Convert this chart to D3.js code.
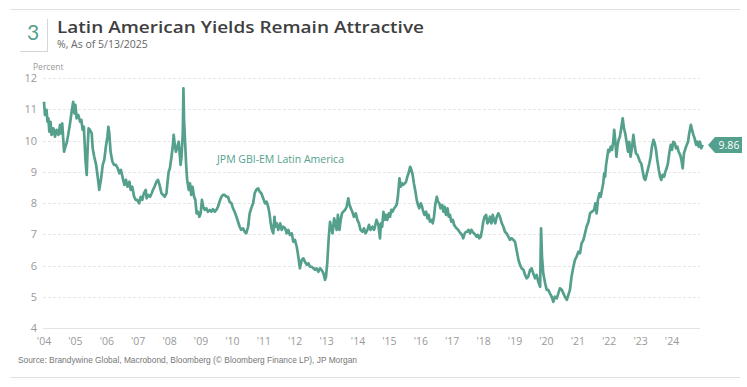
<!DOCTYPE html>
<html>
<head>
<meta charset="utf-8">
<script src="https://cdn.jsdelivr.net/npm/d3@7"></script>
<style>
  body { margin: 0; background: #fff; }
  svg { display: block; }
</style>
</head>
<body>
<svg id="chart"></svg>
<script>
// JPM GBI-EM Latin America yield (decimal years, %)
var dates = [
  2004.00, 2004.03, 2004.08, 2004.11, 2004.14, 2004.17, 2004.21, 2004.24, 2004.30, 2004.35,
  2004.40, 2004.46, 2004.51, 2004.54, 2004.58, 2004.64, 2004.68, 2004.72, 2004.77, 2004.83,
  2004.88, 2004.93, 2004.97, 2005.00, 2005.04, 2005.09, 2005.15, 2005.19, 2005.23, 2005.27,
  2005.32, 2005.36, 2005.39, 2005.42, 2005.46, 2005.52, 2005.55, 2005.60, 2005.66, 2005.71,
  2005.76, 2005.82, 2005.87, 2005.92, 2005.97, 2006.02, 2006.05, 2006.08, 2006.12, 2006.18,
  2006.23, 2006.29, 2006.35, 2006.40, 2006.45, 2006.51, 2006.56, 2006.61, 2006.66, 2006.72,
  2006.76, 2006.81, 2006.87, 2006.92, 2006.97, 2007.03, 2007.08, 2007.13, 2007.18, 2007.24,
  2007.27, 2007.32, 2007.38, 2007.43,
  2007.47, 2007.52, 2007.58, 2007.63, 2007.68, 2007.74, 2007.79, 2007.84, 2007.90, 2007.93,
  2007.97, 2008.01, 2008.06, 2008.10, 2008.13, 2008.16, 2008.20, 2008.25, 2008.29, 2008.32,
  2008.35, 2008.38, 2008.42, 2008.44, 2008.46, 2008.48, 2008.50, 2008.53, 2008.56, 2008.61,
  2008.65, 2008.69, 2008.73, 2008.78, 2008.82, 2008.86, 2008.90, 2008.95, 2008.99, 2009.03,
  2009.07, 2009.12, 2009.17, 2009.22, 2009.28, 2009.33, 2009.38, 2009.44, 2009.49, 2009.54,
  2009.59, 2009.65, 2009.70, 2009.75, 2009.81, 2009.86, 2009.91, 2009.97, 2010.02, 2010.07,
  2010.13, 2010.18, 2010.23, 2010.28, 2010.34, 2010.39, 2010.44, 2010.50, 2010.55, 2010.60,
  2010.66, 2010.71, 2010.76, 2010.82, 2010.87, 2010.92,
  2010.98, 2011.04, 2011.09, 2011.14, 2011.18, 2011.22, 2011.26, 2011.30, 2011.34, 2011.37,
  2011.41, 2011.46, 2011.52, 2011.57, 2011.62, 2011.68, 2011.73, 2011.78, 2011.83, 2011.89,
  2011.94, 2011.99, 2012.05, 2012.10, 2012.15, 2012.21, 2012.26, 2012.31, 2012.37, 2012.42,
  2012.47, 2012.52, 2012.58, 2012.63, 2012.68, 2012.74, 2012.79, 2012.84, 2012.90, 2012.95,
  2012.98, 2013.02, 2013.07, 2013.11, 2013.15, 2013.19, 2013.24, 2013.28, 2013.32, 2013.36,
  2013.41, 2013.45, 2013.49, 2013.53, 2013.59, 2013.64, 2013.69, 2013.72, 2013.77, 2013.82,
  2013.87, 2013.93, 2013.98, 2014.03, 2014.08, 2014.14, 2014.19, 2014.24, 2014.30, 2014.35,
  2014.40, 2014.46, 2014.51,
  2014.54, 2014.59, 2014.65, 2014.70, 2014.73, 2014.77, 2014.81, 2014.85, 2014.89, 2014.93,
  2014.98, 2015.02, 2015.06, 2015.10, 2015.15, 2015.19, 2015.23, 2015.27, 2015.32, 2015.36,
  2015.40, 2015.44, 2015.49, 2015.53, 2015.57, 2015.61, 2015.66, 2015.70, 2015.74, 2015.78,
  2015.83, 2015.87, 2015.91, 2015.95, 2016.00, 2016.04, 2016.08, 2016.12, 2016.17, 2016.21,
  2016.25, 2016.29, 2016.34, 2016.38, 2016.42, 2016.46, 2016.51, 2016.55, 2016.59, 2016.63,
  2016.68, 2016.72, 2016.76, 2016.80, 2016.85, 2016.89, 2016.93, 2016.97, 2017.02, 2017.06,
  2017.10, 2017.14, 2017.19, 2017.23, 2017.27, 2017.31, 2017.35, 2017.40, 2017.44, 2017.48,
  2017.52, 2017.57, 2017.61, 2017.65, 2017.69, 2017.74, 2017.78, 2017.82, 2017.86, 2017.91,
  2017.95, 2017.99, 2018.03,
  2018.08, 2018.12, 2018.16, 2018.20, 2018.25, 2018.29, 2018.33, 2018.37, 2018.42, 2018.47,
  2018.52, 2018.58, 2018.63, 2018.68, 2018.73, 2018.79, 2018.84, 2018.89, 2018.95, 2019.00,
  2019.05, 2019.11, 2019.16, 2019.21, 2019.27, 2019.32, 2019.37, 2019.42, 2019.48, 2019.53,
  2019.58, 2019.64, 2019.69, 2019.74, 2019.80, 2019.83, 2019.86, 2019.90, 2019.96, 2020.01,
  2020.06, 2020.11, 2020.17, 2020.22, 2020.27, 2020.33, 2020.38, 2020.43, 2020.49, 2020.54,
  2020.59, 2020.65, 2020.70, 2020.75, 2020.80, 2020.86, 2020.91, 2020.96, 2021.02, 2021.07,
  2021.12, 2021.18, 2021.23, 2021.28, 2021.34, 2021.39,
  2021.52, 2021.56, 2021.60, 2021.64, 2021.69, 2021.73, 2021.77, 2021.81, 2021.84, 2021.87,
  2021.90, 2021.94, 2021.97, 2022.00, 2022.05, 2022.09, 2022.13, 2022.16, 2022.20, 2022.23,
  2022.26, 2022.30, 2022.34, 2022.39, 2022.43, 2022.47, 2022.51, 2022.56, 2022.60, 2022.64,
  2022.68, 2022.73, 2022.77, 2022.81, 2022.85, 2022.90, 2022.94, 2022.98, 2023.02, 2023.07,
  2023.11, 2023.15, 2023.19, 2023.24, 2023.28, 2023.32, 2023.36, 2023.41, 2023.45, 2023.49,
  2023.53, 2023.58, 2023.62, 2023.66, 2023.70, 2023.75, 2023.79, 2023.83, 2023.87, 2023.92,
  2023.96, 2024.00, 2024.04, 2024.09, 2024.13, 2024.17, 2024.21, 2024.26, 2024.30, 2024.34,
  2024.38, 2024.43, 2024.47, 2024.51, 2024.55, 2024.60, 2024.64, 2024.68, 2024.72, 2024.77,
  2024.81, 2024.85, 2024.89, 2024.93, 2024.98
];

var yields = [
  11.24, 10.82, 10.98, 10.60, 10.71, 10.28, 10.60, 10.18, 10.39, 10.12,
  10.34, 10.18, 10.50, 10.23, 10.55, 9.64, 9.80, 9.91, 10.18, 10.55,
  10.92, 11.24, 10.87, 11.14, 10.71, 10.82, 10.60, 10.66, 10.34, 10.44,
  9.38, 8.90, 9.75, 10.39, 10.34, 10.23, 9.75, 9.48, 9.22, 8.84,
  8.42, 8.79, 9.22, 9.38, 9.80, 10.12, 10.44, 10.23, 9.64, 9.32,
  9.22, 9.22, 9.11, 8.95, 9.06, 8.79, 8.58, 8.74, 8.52, 8.68,
  8.42, 8.52, 8.20, 8.10, 8.10, 7.99, 8.20, 8.10, 8.31, 8.42,
  8.15, 8.26, 8.20, 8.31,
  8.42, 8.52, 8.68, 8.74, 8.58, 8.31, 8.26, 8.20, 8.31, 8.63,
  9.00, 9.11, 9.48, 9.80, 10.18, 9.91, 9.64, 9.80, 9.96, 9.59,
  9.22, 9.48, 10.23, 11.67, 10.66, 10.23, 9.80, 9.16, 8.74, 8.42,
  8.63, 8.26, 8.52, 8.20, 8.10, 7.67, 7.72, 7.56, 7.67, 8.10,
  7.88, 7.78, 7.83, 7.72, 7.78, 7.72, 7.80, 7.72, 7.78, 7.88,
  8.04, 8.20, 8.26, 8.26, 8.20, 8.20, 8.04, 7.99, 7.83, 7.72,
  7.56, 7.40, 7.24, 7.14, 7.19, 7.08, 7.03, 7.24, 7.67, 7.83,
  7.99, 8.31, 8.42, 8.47, 8.36, 8.31,
  8.15, 7.99, 8.04, 7.88, 7.67, 7.35, 7.14, 7.03, 7.56, 7.24,
  7.35, 7.14, 7.35, 7.14, 7.24, 7.19, 7.03, 7.14, 6.98, 7.03,
  6.76, 6.82, 6.60, 6.28, 5.91, 6.18, 6.23, 6.12, 6.02, 6.07,
  5.96, 5.96, 5.91, 5.86, 5.91, 5.80, 5.91, 5.86, 5.75, 5.54,
  5.64, 6.07, 6.92, 7.40, 7.19, 7.03, 7.51, 7.35, 7.14, 7.62,
  7.14, 7.46, 7.67, 7.72, 7.78, 7.88, 8.15, 7.99, 7.83, 7.72,
  7.56, 7.67, 7.46, 7.35, 7.14, 7.08, 7.19, 7.03, 7.14, 7.30,
  7.14, 7.24, 7.14,
  7.24, 7.46, 7.30, 6.87, 7.35, 7.24, 7.72, 7.46, 7.62, 7.46,
  7.67, 7.56, 7.78, 7.72, 7.83, 7.88, 7.94, 8.20, 8.79, 8.52,
  8.63, 8.58, 8.63, 8.68, 8.84, 8.95, 9.16, 9.06, 8.90, 8.63,
  8.36, 8.10, 7.94, 7.83, 7.99, 7.88, 7.72, 7.62, 7.72, 7.51,
  7.62, 7.40, 7.46, 7.35, 7.56, 7.94, 8.20, 8.04, 7.99, 7.83,
  7.94, 7.72, 7.88, 7.62, 7.83, 7.56, 7.62, 7.40, 7.46, 7.30,
  7.24, 7.19, 7.14, 7.08, 7.03, 6.98, 6.87, 7.03, 7.08, 7.08,
  7.14, 7.03, 7.14, 7.08, 7.03, 6.98, 6.92, 6.98, 6.87, 6.92,
  7.14, 7.40, 7.56,
  7.62, 7.35, 7.40, 7.56, 7.35, 7.62, 7.46, 7.35, 7.56, 7.67,
  7.56, 7.35, 7.24, 7.08, 7.03, 6.92, 6.82, 6.87, 6.82, 6.76,
  6.50, 6.18, 6.02, 5.91, 5.86, 5.70, 5.59, 5.64, 5.86, 5.91,
  5.75, 5.59, 5.70, 5.48, 5.32, 7.19, 6.28, 5.75, 5.43, 5.22,
  5.22, 5.11, 5.00, 4.84, 5.00, 4.95, 5.11, 5.27, 5.22, 5.11,
  5.00, 4.90, 5.06, 5.22, 5.64, 5.96, 6.18, 6.28, 6.44, 6.39,
  6.71, 6.82, 7.03, 7.24, 7.40, 7.67,
  7.78, 7.99, 7.67, 8.10, 8.31, 8.20, 8.42, 8.63, 8.95, 8.84,
  9.22, 9.48, 9.70, 9.64, 9.80, 9.70, 9.96, 10.34, 9.91, 9.48,
  9.80, 10.02, 10.12, 10.44, 10.71, 10.39, 10.23, 9.91, 9.64, 9.96,
  9.48, 9.80, 10.18, 9.86, 9.59, 9.54, 9.43, 9.32, 9.27, 9.00,
  8.79, 8.74, 8.90, 9.11, 9.27, 9.48, 9.80, 10.02, 9.91, 9.70,
  9.38, 9.06, 8.84, 8.74, 8.90, 8.84, 9.00, 9.11, 9.27, 9.64,
  9.86, 9.70, 9.96, 9.91, 9.75, 9.80, 9.64, 9.54, 9.38, 9.11,
  9.59, 9.75, 9.86, 9.96, 10.23, 10.50, 10.34, 10.18, 10.07, 9.86,
  9.96, 9.80, 9.96, 9.75, 9.86
];

var yTicks = [4, 5, 6, 7, 8, 9, 10, 11, 12];
var xTickYears = d3.range(2004, 2025);
var xTickLabels = xTickYears.map(function (y) { return "'" + String(y).slice(2); });
var lastValue = 9.86;

var width = 747, height = 387;
var teal = '#55a08d';
var grey = '#999';

var svg = d3.select('#chart').attr('width', width).attr('height', height);

var x = d3.scaleLinear().domain([2004, 2025]).range([44, 703.4]);
var y = d3.scaleLinear().domain([4, 12]).range([328, 78]);

// header
svg.append('line').attr('x1', 10).attr('x2', 740).attr('y1', 9.5).attr('y2', 9.5)
  .attr('stroke', '#e2e2e2').attr('stroke-width', 1);
svg.append('line').attr('x1', 10).attr('x2', 740).attr('y1', 377.5).attr('y2', 377.5)
  .attr('stroke', '#e2e2e2').attr('stroke-width', 1);

svg.append('text').attr('x', 33).attr('y', 40).attr('text-anchor', 'middle')
  .style('font-family', 'Lato, sans-serif').style('font-size', '21px')
  .attr('fill', teal).text('3');
svg.append('line').attr('x1', 47.5).attr('x2', 47.5).attr('y1', 19).attr('y2', 52)
  .attr('stroke', '#d6d6d6');
svg.append('line').attr('x1', 20).attr('x2', 47.5).attr('y1', 51.5).attr('y2', 51.5)
  .attr('stroke', '#d6d6d6');

svg.append('text').attr('x', 57).attr('y', 33)
  .style('font-family', '"Open Sans", sans-serif').style('font-size', '17px').style('font-weight', 600)
  .attr('fill', '#3f3f3f').attr('textLength', 367).attr('lengthAdjust', 'spacingAndGlyphs')
  .text('Latin American Yields Remain Attractive');
svg.append('text').attr('x', 57).attr('y', 48)
  .style('font-family', '"Open Sans", sans-serif').style('font-size', '10.5px')
  .attr('fill', '#666').text('%, As of 5/13/2025');

// gridlines
var grid = svg.append('g');
grid.selectAll('line').data(yTicks).enter().append('line')
  .attr('x1', 43).attr('x2', 700)
  .attr('y1', function (d) { return Math.round(y(d)) + 0.5; })
  .attr('y2', function (d) { return Math.round(y(d)) + 0.5; })
  .attr('stroke', function (d) { return d === 4 ? '#e4e4e4' : '#e6e6e6'; })
  .attr('stroke-dasharray', function (d) { return d === 4 ? null : '3,2'; });

// y axis labels
svg.append('g').selectAll('text').data(yTicks).enter().append('text')
  .attr('x', 37).attr('y', function (d) { return y(d) + 4; })
  .attr('text-anchor', 'end')
  .style('font-family', '"Open Sans", sans-serif').style('font-size', '11px')
  .attr('fill', grey).text(function (d) { return d; });

svg.append('text').attr('x', 33).attr('y', 70)
  .style('font-family', '"Open Sans", sans-serif').style('font-size', '8.5px')
  .attr('fill', grey).text('Percent');

// x axis labels
svg.append('g').selectAll('text').data(xTickYears).enter().append('text')
  .attr('x', function (d) { return x(d); }).attr('y', 345)
  .attr('text-anchor', 'middle')
  .style('font-family', '"Open Sans", sans-serif').style('font-size', '10.5px')
  .attr('fill', grey).text(function (d, i) { return xTickLabels[i]; });

// series
var points = dates.map(function (d, i) { return [d, yields[i]]; });
var line = d3.line().x(function (d) { return x(d[0]); }).y(function (d) { return y(d[1]); });
svg.append('path').datum(points).attr('d', line)
  .attr('fill', 'none').attr('stroke', teal).attr('stroke-width', 2.7)
  .attr('stroke-linejoin', 'round');

svg.append('text').attr('x', 217).attr('y', 163)
  .style('font-family', '"Open Sans", sans-serif').style('font-size', '10.5px')
  .attr('fill', teal).text('JPM GBI-EM Latin America');

// last value tag
var ty = y(lastValue);
svg.append('path')
  .attr('d', 'M708,' + ty + 'L715,' + (ty - 8) + 'H742V' + (ty + 8) + 'H715Z')
  .attr('fill', teal);
svg.append('text').attr('x', 729).attr('y', ty + 4).attr('text-anchor', 'middle')
  .style('font-family', '"Open Sans", sans-serif').style('font-size', '10.5px')
  .attr('fill', '#fff').text(lastValue.toFixed(2));

// source
svg.append('text').attr('x', 18).attr('y', 363)
  .style('font-family', '"Liberation Sans Narrow", "Liberation Sans", sans-serif').style('font-size', '9px')
  .attr('fill', '#777').attr('textLength', 339).attr('lengthAdjust', 'spacingAndGlyphs')
  .text('Source: Brandywine Global, Macrobond, Bloomberg (\u00a9 Bloomberg Finance LP), JP Morgan');
</script>
</body>
</html>
